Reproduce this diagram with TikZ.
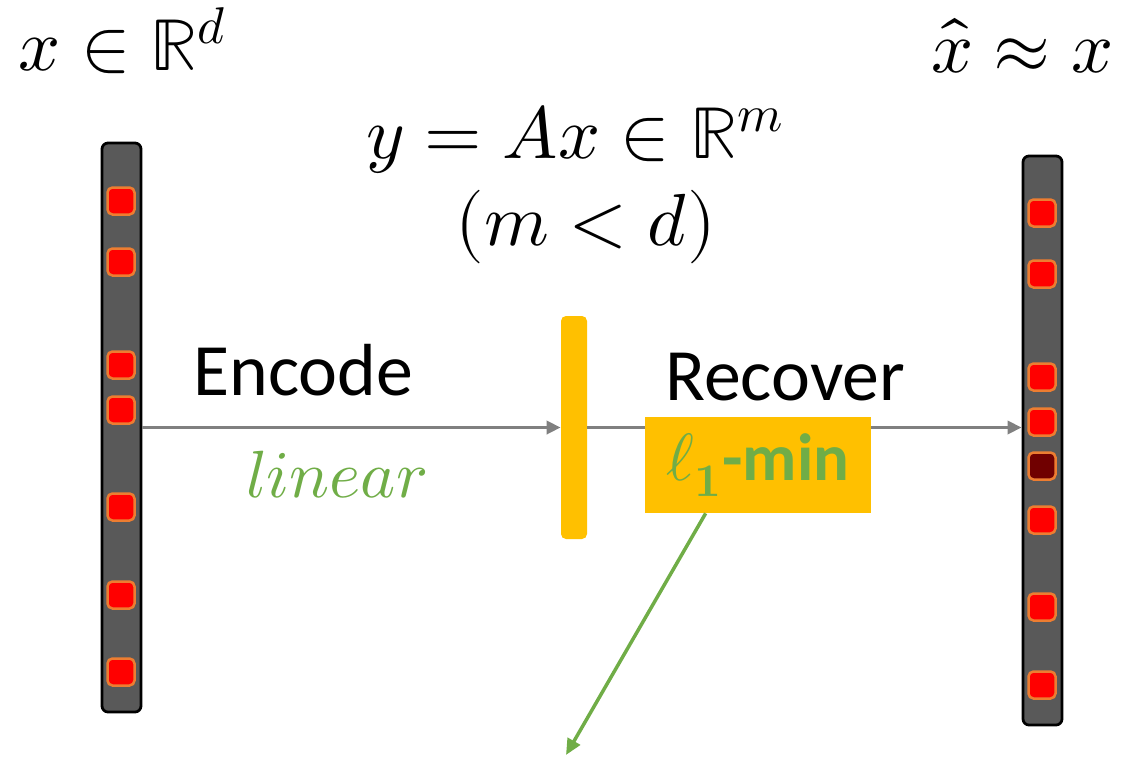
\documentclass[tikz,border=0pt]{standalone}
\usepackage{fontspec}
\usepackage{unicode-math}
\setmainfont{Carlito}
\usetikzlibrary{arrows.meta,positioning}

\definecolor{barGray}{HTML}{595959}
\definecolor{cellRed}{HTML}{FF0000}
\definecolor{cellDark}{HTML}{700000}
\definecolor{cellEdge}{HTML}{ED7D31}
\definecolor{measGold}{HTML}{FFC000}
\definecolor{textGreen}{HTML}{70AD47}
\definecolor{flowGray}{HTML}{808080}

\tikzset{
  vecbar/.style={draw=black, line width=0.55mm, fill=barGray, rounded corners=1.2mm,
    minimum width=7.8mm, minimum height=113.8mm, inner sep=0},
  cell/.style={draw=cellEdge, line width=0.5mm, fill=cellRed, rounded corners=1mm,
    minimum size=5.4mm, inner sep=0},
  measbar/.style={fill=measGold, rounded corners=1mm, minimum width=5.2mm,
    minimum height=44.6mm, inner sep=0},
  minbox/.style={fill=measGold, minimum width=45.2mm, minimum height=19.2mm, inner sep=0,
    text=textGreen, font=\fontsize{38}{44}\selectfont},
  mathlbl/.style={inner sep=0, font=\fontsize{42}{48}\selectfont},
  wordlbl/.style={inner sep=0, font=\fontsize{42}{48}\selectfont},
  flow/.style={draw=flowGray, line width=0.7mm, -{Triangle[length=2.8mm, width=2.6mm]}},
  pointer/.style={draw=textGreen, line width=0.7mm, -{Triangle[length=3.2mm, width=2.8mm]}}
}

\begin{document}
\begin{tikzpicture}[x=0.2mm, y=-0.2mm]
  \useasboundingbox (0,0) rectangle (1125,757);

  % --- signal vectors ---
  \node[vecbar] (xin) at (121.5,427.5) {};
  \node[vecbar] (xout) at (1042.5,440.5) {};

  % non-zero entries of x
  \foreach \yy [count=\i] in {201,262,365,410,507,595,672}
    \node[cell] (in\i) at (121,\yy) {};

  % entries of the recovered vector (one is off)
  \foreach \yy/\c [count=\i] in {213/cellRed,274/cellRed,377/cellRed,422/cellRed,
      466/cellDark,520/cellRed,607/cellRed,685/cellRed}
    \node[cell, fill=\c] (out\i) at (1042,\yy) {};

  % --- measurement y ---
  \node[measbar] (ymeas) at (574,427.5) {};

  % --- flow arrows (drawn before the solver box so it sits on top) ---
  \draw[flow] (xin.east) -- (ymeas.west);
  \draw[flow] (ymeas.east) -- (ymeas.east -| xout.west);

  % --- solver ---
  \node[minbox] (lmin) at (758,465) {$\ell_{\symbf{1}}$\textbf{-min}};
  \coordinate (sink) at (566,755);
  \draw[pointer] ([xshift=12.2mm]lmin.south west) -- (sink);

  % --- labels ---
  \node[mathlbl, anchor=base west] (xlab) at (18,70) {$x \in \mathbb{R}^d$};
  \node[mathlbl, anchor=base east] (xhatlab) at (1114,72) {$\hat{x} \approx x$};
  \node[mathlbl, anchor=base] (ylab) at (575,158) {$y = Ax \in \mathbb{R}^m$};
  \node[mathlbl, anchor=base] (mlab) at (586,245) {$(m < d)$};
  \node[wordlbl, anchor=base west] (enclab) at (193,395) {Encode};
  \node[wordlbl, anchor=base west] (reclab) at (665,400) {Recover};
  \node[mathlbl, anchor=base, text=textGreen, font=\fontsize{38}{44}\selectfont]
    (linlab) at (337,497) {$linear$};
\end{tikzpicture}
\end{document}
